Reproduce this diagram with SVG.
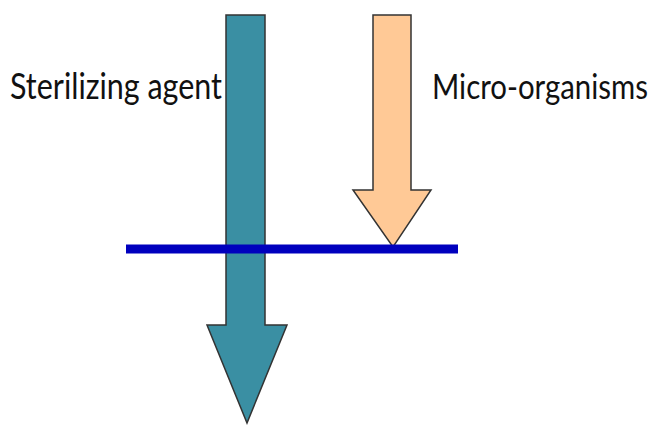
<svg xmlns="http://www.w3.org/2000/svg" width="658" height="427" viewBox="0 0 658 427">
<style>
.lbl{font-family:Lato,"Open Sans","Liberation Sans",sans-serif;font-size:36px;fill:#111}
.arrow{stroke:#333;stroke-width:1.5;stroke-linejoin:miter}
</style>
<rect width="658" height="427" fill="#fff"/>
<g id="sterilizing-agent-arrow">
<polygon class="arrow" fill="#3A8FA3" points="226,15 265,15 265,325 287,325 247,423 207,325 226,325"/>
</g>
<g id="micro-organisms-arrow">
<polygon class="arrow" fill="#FFC996" points="373,15 411,15 411,190 431,190 393,247 353,190 373,190"/>
</g>
<g id="connectors">
<line x1="126" y1="249" x2="458" y2="249" stroke="#0000BE" stroke-width="9"/>
</g>
<g id="label-sterilizing">
<text class="lbl" x="10" y="99" textLength="212" lengthAdjust="spacingAndGlyphs">Sterilizing agent</text>
</g>
<g id="label-micro">
<text class="lbl" transform="translate(432,99) scale(1,1.18)" x="0" y="0" style="font-size:30px" textLength="216" lengthAdjust="spacingAndGlyphs">Micro-organisms</text>
</g>
</svg>
